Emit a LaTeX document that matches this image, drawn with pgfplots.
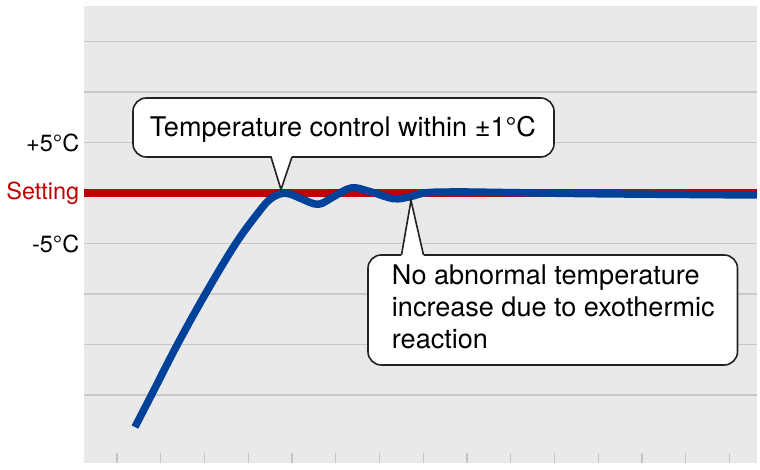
\documentclass[border=0pt]{standalone}
\usepackage{pgfplots}
\pgfplotsset{compat=1.18}
\usepackage{fontspec}
\setmainfont{TeX Gyre Heros}
\usetikzlibrary{calc}

\definecolor{bgc}{HTML}{E9E9E9}
\definecolor{gridc}{HTML}{C8C8C8}
\definecolor{tickc}{HTML}{C4C4C4}
\definecolor{setred}{HTML}{C00000}
\definecolor{curveblue}{HTML}{00419A}
\definecolor{boxline}{HTML}{222222}

\begin{document}
\begin{tikzpicture}
\begin{axis}[
    name=ax,
    scale only axis,
    width=504.75pt, height=342.75pt,
    xmin=0.246, xmax=15.63,
    ymin=-26.73, ymax=18.51,
    axis background/.style={fill=bgc},
    axis line style={draw=none},
    xtick={1,...,15}, xticklabels={},
    xtick pos=lower,
    tick align=inside,
    major tick length=7.5pt,
    xtick style={color=tickc, line width=0.9pt},
    ytick={-20,-15,-10,-5,0,5,10,15},
    yticklabels={{},{},{},-5°C,{\color{setred}Setting},+5°C,{},{}},
    ytick style={draw=none},
    ymajorgrids,
    grid style={gridc, line width=1.1pt},
    tick label style={font=\fontsize{17.6}{20}\selectfont},
  ]
  % setting line
  \addplot[setred, line width=6pt] coordinates {(0.246,0) (15.63,0)};
  % temperature curve
  \addplot[curveblue, line width=5.6pt, smooth, tension=0.6] coordinates {
    (1.411,-23.17) (1.80,-19.9) (2.38,-15.0) (3.02,-10.0)
    (3.70,-5.1) (4.22,-2.0) (4.50,-0.62) (4.77,-0.05)
    (4.99,-0.15) (5.22,-0.58) (5.60,-1.12) (5.95,-0.37) (6.36,0.50)
    (6.79,0.13) (7.32,-0.56) (7.70,-0.37) (8.08,0.03)
    (8.85,0.10) (9.8,0.05) (12.0,-0.08) (15.63,-0.2)
  };
\end{axis}

% callouts, in pixel units of the reference
\begin{scope}[shift={($(ax.north west)+(-63pt,4.5pt)$)}, x=0.75pt, y=-0.75pt]
  \draw[boxline, line width=1.2pt, fill=white, rounded corners=10pt] (133,98) rectangle (554,157);
  \fill[white] (271.5,155) -- (281,189) -- (292.5,155) -- cycle;
  \draw[boxline, line width=1.2pt] (271,157) -- (281,189.5) -- (292,157);
  \node[anchor=base, inner sep=0, font=\fontsize{20.3}{24}\selectfont] at (343,136.7) {Temperature control within ±1°C};

  \draw[boxline, line width=1.2pt, fill=white, rounded corners=10pt] (368,255) rectangle (737.5,365);
  \fill[white] (401,257) -- (411,201) -- (424,257) -- cycle;
  \draw[boxline, line width=1.2pt] (401.5,255) -- (411,200.5) -- (423.5,255);
  \begin{scope}[every node/.style={anchor=base west, inner sep=0, font=\fontsize{20.3}{24}\selectfont}]
    \node at (391.7,285) {No abnormal temperature};
    \node at (391.7,317) {increase due to exothermic};
    \node at (391.7,349) {reaction};
  \end{scope}
\end{scope}

\pgfresetboundingbox
\path[use as bounding box] ($(ax.north west)+(-63pt,4.5pt)$) rectangle ++(570pt,-352.5pt);
\end{tikzpicture}
\end{document}
